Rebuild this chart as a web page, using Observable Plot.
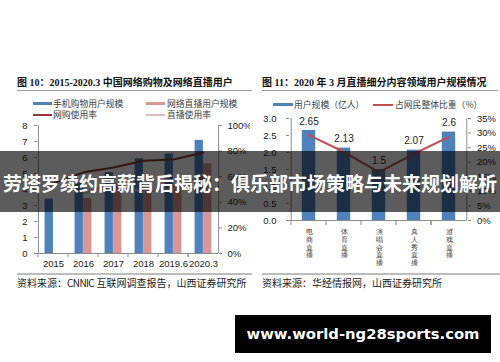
<!DOCTYPE html>
<html><head><meta charset="utf-8">
<script src="https://cdn.jsdelivr.net/npm/d3@7"></script>
<script src="https://cdn.jsdelivr.net/npm/@observablehq/plot@0.6"></script>
<style>
html,body{margin:0;padding:0;background:#fff;}
#wrap{position:relative;width:500px;height:362px;overflow:hidden;background:#fff;font-family:"Noto Sans CJK SC",sans-serif;}
.abs{position:absolute;white-space:nowrap;}
.title{font-family:"Liberation Serif","Noto Sans CJK SC",serif;font-weight:bold;font-size:10px;line-height:10px;color:#111;}
.uline{position:absolute;height:1.5px;background:#9a9a9a;}
.sep{position:absolute;height:2px;background:#bdbdbd;}
.leg{font-size:8.8px;line-height:9px;color:#404040;}
.sw{position:absolute;}
.src{font-size:10px;line-height:10px;color:#222;}
.cn{letter-spacing:-0.6px;}
#banner{position:absolute;left:0;top:151px;width:500px;height:61px;background:rgba(0,0,0,0.64);}
#bannerText{position:absolute;left:0;width:500px;top:172px;text-align:center;color:#fff;font-weight:bold;font-size:19px;line-height:22px;font-family:"Noto Sans CJK SC",sans-serif;}
#wm{position:absolute;left:235px;top:315px;width:256px;height:38px;background:#000;color:#fff;font-family:"DejaVu Sans",sans-serif;font-weight:bold;font-size:14.8px;line-height:38px;text-align:center;}
#p1,#p2{position:absolute;}
svg text{font-family:"Liberation Sans",sans-serif;}
</style></head>
<body><div id="wrap">
<div class="abs title" style="left:17px;top:78px;">图 10：2015-2020.3 中国网络购物及网络直播用户</div>
<div class="uline" style="left:17px;top:89.5px;width:235px;"></div>
<div class="abs title" style="left:262px;top:78px;">图 11：2020 年 3 月直播细分内容领域用户规模情况</div>
<div class="uline" style="left:262px;top:89.5px;width:236px;"></div>

<div class="sw" style="left:33px;top:101.5px;width:19px;height:3.5px;background:#4f81bd;"></div>
<div class="abs leg" style="left:53px;top:99px;">手机购物用户规模</div>
<div class="sw" style="left:146px;top:101.5px;width:19px;height:3.5px;background:#d99694;"></div>
<div class="abs leg" style="left:167px;top:99px;">网络直播用户规模</div>
<div class="sw" style="left:33px;top:113.5px;width:19px;height:2px;background:#953735;"></div>
<div class="abs leg" style="left:53px;top:110px;">网购使用率</div>
<div class="sw" style="left:146px;top:113.5px;width:19px;height:2px;background:#e6b9b8;"></div>
<div class="abs leg" style="left:167px;top:110px;">直播使用率</div>

<div class="sw" style="left:273px;top:102.5px;width:20px;height:3.5px;background:#4f81bd;"></div>
<div class="abs leg" style="left:294px;top:100px;">用户规模（亿人）</div>
<div class="sw" style="left:373px;top:103.5px;width:20px;height:2px;background:#c0504d;"></div>
<div class="abs leg" style="left:395px;top:100px;">占网民整体比重（%）</div>

<div id="p1" style="left:0;top:115px;"></div>
<div id="p2" style="left:250px;top:110px;"></div>

<div class="sep" style="left:17px;top:272.5px;width:235px;"></div>
<div class="sep" style="left:262px;top:272.5px;width:238px;"></div>
<div class="abs src" style="left:17px;top:277.5px;">资料来源：<span class="cn">CNNIC</span> 互联网调查报告，山西证券研究所</div>
<div class="abs src" style="left:262px;top:277.5px;">资料来源：华经情报网，山西证券研究所</div>

<div id="banner"></div>
<div id="bannerText">劳塔罗续约高薪背后揭秘：俱乐部市场策略与未来规划解析</div>
<div id="wm">www.world-ng28sports.com</div>
</div>
<script>
// ---- Figure 10 data ----
const years = ["2015","2016","2017","2018","2019.6","2020.3"];
const mobileShoppers = [3.40, 4.41, 5.06, 5.92, 6.22, 7.07];   // 亿人
const liveUsers = [null, 3.44, 4.22, 3.97, 4.33, 5.60];        // 亿人
const shopRate = [54.8, 63.4, 67.2, 72.5, 73.4, 78.9];         // %
const liveRate = [null, 47.1, 54.7, 47.9, 50.7, 62.0];         // %
const leftTicks = [0,1,2,3,4,5,6,7,8];
const rightTicks = [0,20,40,60,80,100];

// ---- Figure 11 data ----
const genres = ["电商直播","体育直播","演唱会直播","真人秀直播","游戏直播"];
const genreUsers = [2.65, 2.13, 1.50, 2.07, 2.60];   // 亿人
const genreShare = [29.3, 23.5, 16.6, 22.9, 28.7];   // %
const genreLabels = ["2.65","2.13","1.5","2.07","2.6"];
const g2LeftTicks = [0,0.5,1.0,1.5,2.0,2.5,3.0];
const g2RightTicks = [0,5,10,15,20,25,30,35];

const axisColor = "#8c8c8c";

// ---------- Chart 1 ----------
{
  const W = 250, H = 160, mL = 37, mR = 32, mT = 10, mB = 22;
  const bw = (W - mL - mR) / years.length;
  const half = bw / 2, barW = 8.5;
  const t1 = years.map((y,i)=>({year:y, v:mobileShoppers[i]}));
  const t2 = years.map((y,i)=>({year:y, v:liveUsers[i]})).filter(d=>d.v!=null);
  const l1 = years.map((y,i)=>({year:y, v:shopRate[i]/100*8}));
  const l2 = years.map((y,i)=>({year:y, v:liveRate[i]==null?null:liveRate[i]/100*8})).filter(d=>d.v!=null);
  const bounds = years.map((y,i)=>({year:y, dx:-half})).concat([{year:years[years.length-1], dx:half}]);
  const p = Plot.plot({
    width: W, height: H, marginLeft: mL, marginRight: mR, marginTop: mT, marginBottom: mB,
    style: {fontSize: "9.5px", color: "#222", background: "transparent"},
    x: {domain: years, padding: 0, axis: null},
    y: {domain: [0, 8], axis: null},
    marks: [
      Plot.barY(t1, {x: "year", y: "v", fill: "#4f81bd", insetLeft: half - barW, insetRight: half}),
      Plot.barY(t2, {x: "year", y: "v", fill: "#d99694", insetLeft: half, insetRight: half - barW}),
      Plot.line(l2, {x: "year", y: "v", stroke: "#e6b9b8", strokeWidth: 2}),
      Plot.line(l1, {x: "year", y: "v", stroke: "#953735", strokeWidth: 2}),
      Plot.axisY(leftTicks, {anchor: "left", label: null, tickSize: 3, tickPadding: 7, stroke: axisColor, fontSize: 9.5, fill: "#222"}),
      Plot.axisY(rightTicks.map(d=>d/100*8), {anchor: "right", label: null, tickSize: 3, tickPadding: 6, stroke: axisColor, fontSize: 9.5, fill: "#222", tickFormat: d => Math.round(d/8*100) + "%"}),
      Plot.axisX(years, {anchor: "bottom", label: null, tickSize: 0, tickPadding: 7, fontSize: 9.5, fill: "#222"}),
      Plot.ruleX([years[0]], {x: d=>d, dx: -half, stroke: axisColor}),
      Plot.ruleX([years[years.length-1]], {x: d=>d, dx: half, stroke: axisColor}),
      Plot.ruleY([0], {stroke: axisColor}),
      Plot.ruleX(bounds, {x: "year", dx: "dx", y1: 0, y2: -0.25, stroke: axisColor})
    ]
  });
  document.getElementById("p1").appendChild(p);
}

// ---------- Chart 2 ----------
{
  const W = 250, H = 170, mL = 39, mR = 33, mT = 8, mB = 60;
  const bw = (W - mL - mR) / genres.length;
  const half = bw / 2;
  const bars = genres.map((g,i)=>({g, v:genreUsers[i], label: genreLabels[i]}));
  const line = genres.map((g,i)=>({g, v:genreShare[i]/35*3}));
  const bounds = genres.map(g=>({g, dx:-half})).concat([{g:genres[genres.length-1], dx:half}]);
  const maxLen = d3.max(genres, g => g.length);
  // one text mark per character position -> upright vertical labels
  const charMarks = d3.range(maxLen).map(k =>
    Plot.text(genres.filter(g => g.length > k), {
      x: d => d, frameAnchor: "bottom", text: d => d[k], lineAnchor: "top",
      dy: 9 + k * 7.6, fontSize: 7, fill: "#333", fontFamily: "Noto Sans CJK SC"
    })
  );
  const p = Plot.plot({
    width: W, height: H, marginLeft: mL, marginRight: mR, marginTop: mT, marginBottom: mB,
    style: {fontSize: "9.5px", color: "#222", background: "transparent"},
    x: {domain: genres, padding: 0, axis: null},
    y: {domain: [0, 3], axis: null},
    marks: [
      Plot.barY(bars, {x: "g", y: "v", fill: "#4f81bd", insetLeft: half - 7, insetRight: half - 7}),
      Plot.line(line, {x: "g", y: "v", stroke: "#c0504d", strokeWidth: 2}),
      Plot.text(bars, {x: "g", y: "v", text: "label", dy: -9, fontSize: 10, fill: "#222"}),
      Plot.axisY(g2LeftTicks, {anchor: "left", label: null, tickSize: 3, tickPadding: 10, stroke: axisColor, fontSize: 9.5, fill: "#222", tickFormat: d3.format(".1f")}),
      Plot.axisY(g2RightTicks.map(d=>d/35*3), {anchor: "right", label: null, tickSize: 3, tickPadding: 6.5, stroke: axisColor, fontSize: 9.5, fill: "#222", tickFormat: d => Math.round(d/3*35) + "%"}),
      ...charMarks,
      Plot.ruleX([genres[0]], {x: d=>d, dx: -half, stroke: axisColor}),
      Plot.ruleX([genres[genres.length-1]], {x: d=>d, dx: half, stroke: axisColor}),
      Plot.ruleY([0], {stroke: axisColor}),
      Plot.ruleX(bounds, {x: "g", dx: "dx", y1: 0, y2: -0.15, stroke: axisColor})
    ]
  });
  document.getElementById("p2").appendChild(p);
}
</script>
</body></html>
